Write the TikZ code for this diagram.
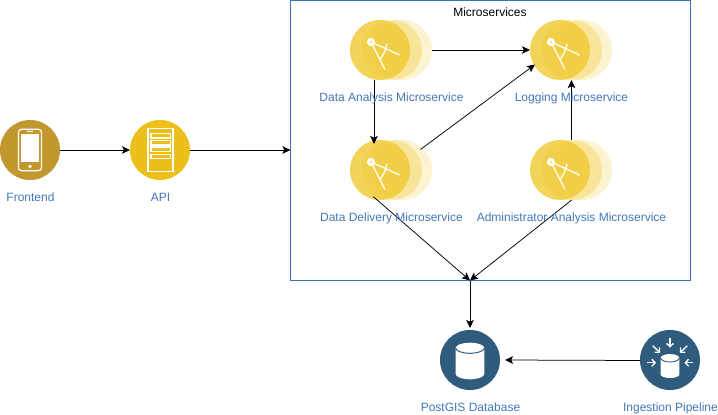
\documentclass[tikz,border=0pt]{standalone}
\usepackage{fontspec}
\setmainfont{Liberation Sans}
\usetikzlibrary{arrows.meta,calc}
\definecolor{labelblue}{HTML}{4277BB}
\definecolor{boxblue}{HTML}{3A75BC}
\definecolor{frontgold}{HTML}{C2982E}
\definecolor{apigold}{HTML}{EBBF1C}
\definecolor{msgold}{HTML}{F0C82C}
\definecolor{dbblue}{HTML}{2F5B7D}
\tikzset{
  lab/.style={text=labelblue,font=\fontsize{12}{14}\selectfont,inner sep=0pt,anchor=base},
  disc/.style={circle,minimum size=60,inner sep=0pt,outer sep=0pt,fill=#1},
  msdisc/.style={circle,minimum size=60,inner sep=0pt,outer sep=0pt,fill=msgold,fill opacity=#1},
  conn/.style={draw=black,line width=0.75,-{Stealth[length=8,width=7.5,inset=1.8]}},
  iconline/.style={draw=white,line width=1.3},
  thinarrow/.style={draw=white,line width=1.3,-{Straight Barb[length=3.2,width=7]}},
  pics/compass/.style={code={
    \begin{scope}[opacity=#1]
      \draw[iconline] (-9,-8) -- (5,19.5);
      \draw[iconline] (-9,-8) -- (19.5,5);
      \draw[iconline] (7,-6.5) to[bend left=14] (-0.5,10);
      \draw[white,line width=1.6] (-10.7,-11.5) -- (-9,-8);
      \fill[white] (-9,-8) circle (4.1);
      \fill[msgold!80] (-9,-8) circle (1.1);
    \end{scope}
  }},
}
\begin{document}
\begin{tikzpicture}[x=1pt,y=-1pt]
\useasboundingbox (0,0) rectangle (718,415);
% container
\node[draw=boxblue,line width=0.8,minimum width=400,minimum height=280,inner sep=0pt,outer sep=0pt] (box) at (490.5,140.5) {};
\node[font=\fontsize{12}{14}\selectfont,inner sep=0pt] (boxtitle) at (490,12) {Microservices};
% frontend
\node[disc=frontgold] (fe) at (30,150) {};
\draw[white,line width=1.2,rounded corners=3] (18.5,129.3) rectangle (41.5,170.7);
\fill[white] (21,134) rectangle (39.3,161.7);
\draw[white,line width=1] (27,131.7) -- (33,131.7);
\fill[white] (30,166.5) circle (1.8);
\node[lab] (felab) at (30.5,201.3) {Frontend};
% api
\node[disc=apigold] (api) at (160,150) {};
\draw[white,line width=1.2] (148,128.6) rectangle (173,171.4);
\foreach \a/\b in {133.6/138,140.8/145,147/151.4,154.2/158.6}
  \draw[white,line width=1.1] (151,\a) rectangle (170.5,\b);
\node[lab] (apilab) at (160.5,201.3) {API};
% microservices
\foreach \n/\x/\y in {da/380/50,lo/560/50,dd/380/170,ad/560/170}{
  \node[msdisc=0.22] (\n c) at (\x+22,\y) {};
  \node[msdisc=0.33] (\n b) at (\x+12,\y) {};
  \begin{scope}[shift={(\x+12,\y)}]
    \path (0,0) pic {compass=0.18};
  \end{scope}
  \node[msdisc=0.78] (\n) at (\x,\y) {};
  \begin{scope}[shift={(\x,\y)}]
    \path (0,0) pic {compass=1};
  \end{scope}
}
% database
\node[disc=dbblue] (db) at (470,360) {};
\fill[white] (455.7,348) -- (455.7,374) arc[start angle=180,end angle=0,x radius=14.3,y radius=5.3] -- (484.3,348) arc[start angle=0,end angle=-180,x radius=14.3,y radius=5.3] -- cycle;
\draw[dbblue,line width=1] (455.7,348) arc[start angle=180,end angle=0,x radius=14.3,y radius=5.3];
\node[lab] (dblab) at (470.5,411.3) {PostGIS Database};
% ingestion
\node[disc=dbblue] (ing) at (670,360) {};
\fill[white] (660.7,358) -- (660.7,374.5) arc[start angle=180,end angle=0,x radius=9.3,y radius=3.5] -- (679.3,358) arc[start angle=0,end angle=-180,x radius=9.3,y radius=4] -- cycle;
\draw[dbblue,line width=0.9] (660.7,358) arc[start angle=180,end angle=0,x radius=9.3,y radius=4];
\draw[thinarrow] (670,338) -- (670,347.5);
\draw[thinarrow] (646.7,362.7) -- (656,362.7);
\draw[thinarrow] (693.3,362.7) -- (684.5,362.7);
\draw[thinarrow] (652.7,345.7) -- (660,352.7);
\draw[thinarrow] (687.3,345.7) -- (680,352.7);
\node[lab] (inglab) at (670.5,411.3) {Ingestion Pipeline};
% free connector points
\coordinate (join) at (470,280.5);
\coordinate (ddlow) at (373.4,196.7);
\coordinate (adlow) at (571.7,200);
\coordinate (lotip) at (535,64.5);
\coordinate (ddtip) at (374,144);
\coordinate (datail) at (374,80);
\coordinate (adtop) at (571.5,140);
\coordinate (lolow) at (571.5,80);
\coordinate (dbtip) at (505,360);
\coordinate (ingtail) at (640,360.5);
\coordinate (ddtail) at (420.5,149.5);
% connectors
\draw[conn] (fe.east) -- (api.west);
\draw[conn] (api.east) -- (api.east -| box.west);
\draw[conn] (dac.east) -- (lo.west);
\draw[conn] (datail) -- (ddtip);
\draw[conn] (ddtail) -- (lotip);
\draw[conn] (adtop) -- (lolow);
\draw[conn] (ddlow) -- (join);
\draw[conn] (adlow) -- (join);
\draw[conn] (join) -- ($(db.north)+(0,-2)$);
\draw[conn] (ingtail) -- (dbtip);
% labels
\foreach \n/\x/\y/\t in {da/380/50/Data Analysis Microservice,lo/560/50/Logging Microservice,dd/380/170/Data Delivery Microservice,ad/560/170/Administrator Analysis Microservice}{
  \node[lab] (\n lab) at (\x+11.5,\y+51.3) {\t};
}
\end{tikzpicture}
\end{document}
